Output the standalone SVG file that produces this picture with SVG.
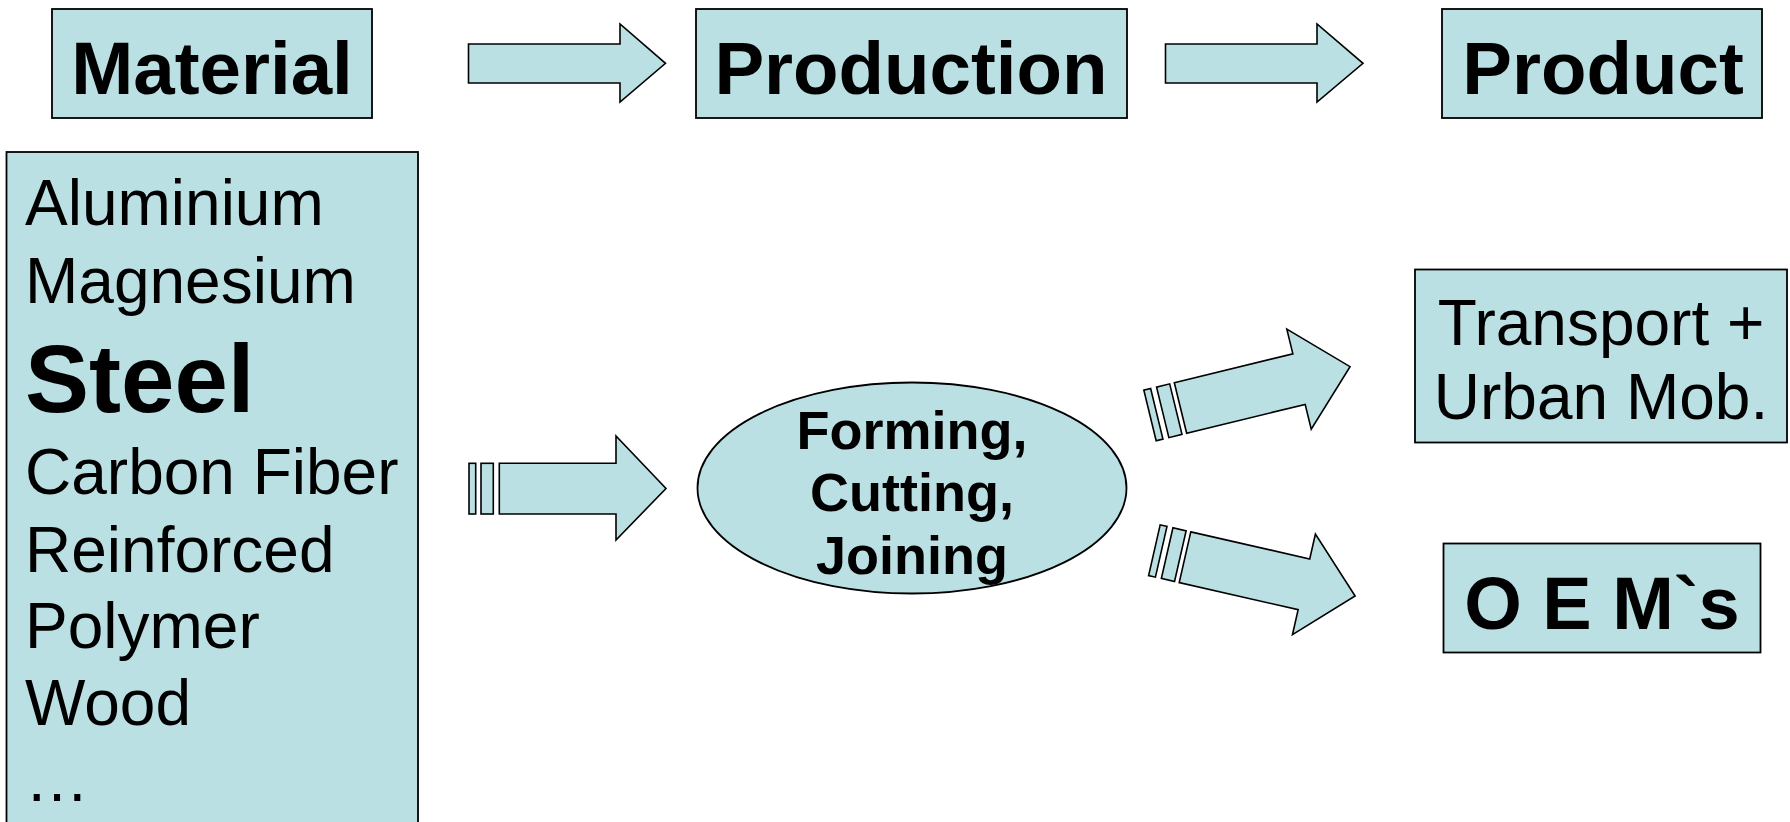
<svg xmlns="http://www.w3.org/2000/svg" width="1790" height="822" viewBox="0 0 1790 822">
<style>
.box{fill:#BBE0E3;stroke:#000;stroke-width:1.8}
.arr{fill:#BBE0E3;stroke:#000;stroke-width:1.6;stroke-linejoin:miter}
.t{font-family:"Liberation Sans",Arial,sans-serif;fill:#000}
.title{font-size:74.5px;font-weight:bold;text-anchor:middle}
.item{font-size:64px}
.proc{font-size:54px;font-weight:bold;text-anchor:middle}
</style>
<defs>
<g id="slantArrow">
<rect class="arr" x="-31.4" y="-26" width="7" height="52"/>
<rect class="arr" x="-18.3" y="-26" width="13.5" height="52"/>
<path class="arr" d="M0,-26 H122 V-51.5 L174.5,0 L122,51.5 V26 H0 Z"/>
</g>
</defs>
<rect width="1790" height="822" fill="#fff"/>

<g id="material">
<rect class="box" x="52" y="9" width="320" height="109"/>
<text class="t title" x="212" y="94">Material</text>
</g>
<g id="production">
<rect class="box" x="696" y="9" width="431" height="109"/>
<text class="t title" x="911" y="94">Production</text>
</g>
<g id="product">
<rect class="box" x="1442" y="9" width="320" height="109"/>
<text class="t title" x="1603" y="94">Product</text>
</g>

<g id="materials-list">
<rect class="box" x="6.5" y="152" width="411.5" height="690"/>
<text class="t item" x="25" y="225">Aluminium</text>
<text class="t item" x="25" y="303">Magnesium</text>
<text class="t" x="25" y="412" style="font-size:96px;font-weight:bold">Steel</text>
<text class="t item" x="25" y="494">Carbon Fiber</text>
<text class="t item" x="25" y="572">Reinforced</text>
<text class="t item" x="25" y="648">Polymer</text>
<text class="t item" x="25" y="725">Wood</text>
<text class="t item" x="25" y="801">…</text>
</g>

<g id="process">
<ellipse class="box" cx="912" cy="488" rx="214.5" ry="105.5"/>
<text class="t proc" x="912" y="448.5">Forming,</text>
<text class="t proc" x="912" y="511">Cutting,</text>
<text class="t proc" x="912" y="573.5">Joining</text>
</g>

<g id="transport">
<rect class="box" x="1415" y="269.5" width="372" height="173"/>
<text class="t item" x="1601" y="345" text-anchor="middle">Transport +</text>
<text class="t item" x="1601" y="419" text-anchor="middle">Urban Mob.</text>
</g>

<g id="oems">
<rect class="box" x="1443.5" y="543.5" width="317" height="109"/>
<text class="t" x="1602" y="628.5" text-anchor="middle" style="font-size:74px;font-weight:bold">O E M`s</text>
</g>

<g id="connectors">
<path class="arr" d="M468.5,44 H620 V24 L665.5,63.3 L620,102 V83 H468.5 Z"/>
<path class="arr" d="M1165.5,44 H1317 V24 L1363,63.3 L1317,102 V83 H1165.5 Z"/>
<rect class="arr" x="469" y="463.3" width="6.7" height="50.7"/>
<rect class="arr" x="481" y="463.3" width="12.3" height="50.7"/>
<path class="arr" d="M499.3,463.3 H616 V436 L666,488.5 L616,540 V514 H499.3 Z"/>
<use href="#slantArrow" transform="translate(1180.5,408) rotate(-13.7)"/>
<use href="#slantArrow" transform="translate(1185,557.2) rotate(12.86)"/>
</g>
</svg>
